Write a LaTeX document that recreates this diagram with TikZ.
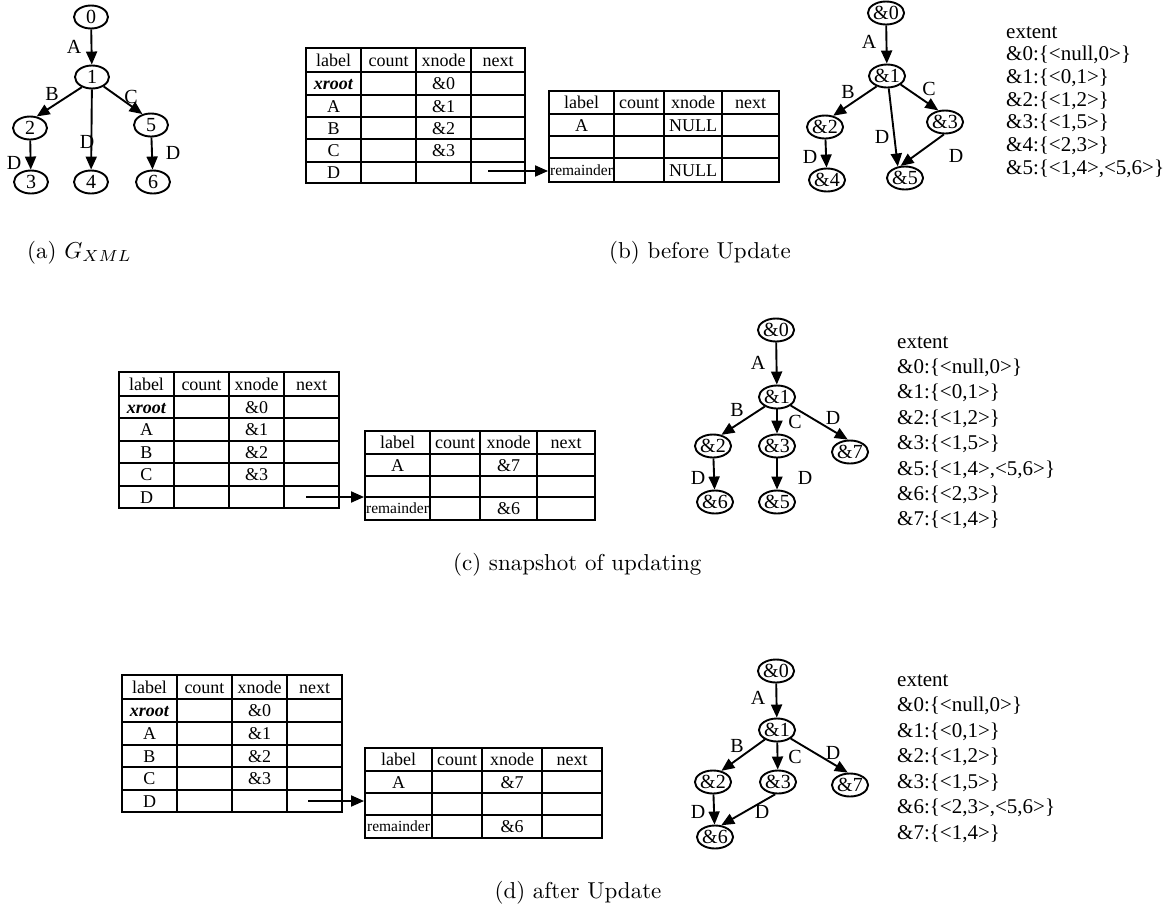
\documentclass[tikz,border=0pt]{standalone}
\usepackage{fontspec}
\usepackage{graphicx}
\usetikzlibrary{arrows.meta,shapes.geometric}
\newfontfamily\timesf{Liberation Serif}
\newcommand\grfont{\timesf\fontsize{20}{22}\selectfont}
\newcommand\tbfont{\timesf\fontsize{18}{20}\selectfont}
\newcommand\smfont{\timesf\fontsize{15.5}{17}\selectfont}
\newcommand\exfont{\timesf\fontsize{21}{23}\selectfont}
\begin{document}
\begin{tikzpicture}[x=1pt,y=-1pt,
  gnode/.style={ellipse, draw, line width=1.9pt, minimum width=34pt, minimum height=23pt, inner sep=0pt, font=\grfont},
  garr/.style={line width=1.9pt, -{Triangle[length=13pt,width=11pt]}},
  elab/.style={font=\grfont, inner sep=0pt},
  tframe/.style={draw, rectangle, line width=1.9pt, inner sep=0pt},
  tline/.style={line width=1.9pt},
  ttext/.style={font=\tbfont, inner sep=0pt, anchor=base},
  tsmall/.style={font=\smfont, inner sep=0pt, anchor=base},
  ext/.style={font=\exfont, inner sep=0pt, anchor=base west},
  capt/.style={inner sep=0pt, anchor=base}]
\useasboundingbox (0,0) rectangle (1173,916);

% ================= (a) =================
\node[gnode] (a0) at (91,17) {0};
\node[gnode] (a1) at (92,77) {1};
\node[gnode] (a2) at (30,128) {2};
\node[gnode] (a5) at (151,125) {5};
\node[gnode] (a3) at (31,182) {3};
\node[gnode] (a4) at (91,182) {4};
\node[gnode] (a6) at (153,182) {6};
\draw[garr] (a0) -- (a1);
\draw[garr] (a1.225) -- (a2.60);
\draw[garr] (a1) -- (a4);
\draw[garr] (a1.321) -- (a5.128);
\draw[garr] (a2) -- (a3);
\draw[garr] (a5) -- (a6);
\node[elab] (aA) at (74,47) {A};
\node[elab] (aB) at (52,94) {B};
\node[elab] (aC) at (131,97) {C};
\node[elab] (aD1) at (87,142) {D};
\node[elab] (aD2) at (14,163) {D};
\node[elab] (aD3) at (173,153) {D};
\node[capt, anchor=base west] (capa) at (27,258) {\scalebox{2.3}{(a) $G_{XML}$}};

% ================= (b) tables =================
\node[tframe, minimum width=219pt, minimum height=135pt] (bT1) at (415.5,115.5) {};
\foreach \x in {361,416,471} \draw[tline] (\x,48) -- (\x,183);
\foreach \y in {72,95,117,139,162} \draw[tline] (306,\y) -- (525,\y);
\node[ttext] (b1h1) at (333.5,66) {label};
\node[ttext] (b1h2) at (388.5,66) {count};
\node[ttext] (b1h3) at (443.5,66) {xnode};
\node[ttext] (b1h4) at (498,66) {next};
\node[ttext] (b1r1) at (333.5,89.5) {\textbf{\textit{xroot}}};
\node[ttext] (b1x1) at (443.5,89.5) {\&0};
\node[ttext] (b1r2) at (333.5,112) {A};
\node[ttext] (b1x2) at (443.5,112) {\&1};
\node[ttext] (b1r3) at (333.5,134) {B};
\node[ttext] (b1x3) at (443.5,134) {\&2};
\node[ttext] (b1r4) at (333.5,156.5) {C};
\node[ttext] (b1x4) at (443.5,156.5) {\&3};
\node[ttext] (b1r5) at (333.5,178.5) {D};

\node[tframe, minimum width=230pt, minimum height=91pt] (bT2) at (664,136.5) {};
\foreach \x in {614,664,722} \draw[tline] (\x,91) -- (\x,182);
\foreach \y in {114,136,158} \draw[tline] (549,\y) -- (779,\y);
\node[ttext] (b2h1) at (581.5,108.5) {label};
\node[ttext] (b2h2) at (639,108.5) {count};
\node[ttext] (b2h3) at (693,108.5) {xnode};
\node[ttext] (b2h4) at (750.5,108.5) {next};
\node[ttext] (b2r1) at (581.5,131) {A};
\node[ttext] (b2x1) at (693,131) {NULL};
\node[tsmall] (b2r3) at (581.5,175) {remainder};
\node[ttext] (b2x3) at (693,176) {NULL};
\coordinate (bS) at (488,171);
\draw[garr] (bS) -- (bT2.west |- bS);

% ================= (b) graph =================
\node[gnode] (b0) at (886,13) {\&0};
\node[gnode] (b1) at (887,76) {\&1};
\node[gnode] (b2) at (825,127) {\&2};
\node[gnode] (b3) at (945,122) {\&3};
\node[gnode] (b4) at (827,180) {\&4};
\node[gnode] (b5) at (905,178) {\&5};
\draw[garr] (b0) -- (b1);
\draw[garr] (b1.225) -- (b2.54);
\draw[garr] (b1.278) -- (b5.122);
\draw[garr] (b1.328) -- (b3.120);
\draw[garr] (b2) -- (b4);
\draw[garr] (b3.265) -- (b5.110);
\node[elab] (bA) at (869,42) {A};
\node[elab] (bB) at (848,92) {B};
\node[elab] (bC) at (929,89) {C};
\node[elab] (bD1) at (882,137) {D};
\node[elab] (bD2) at (810,157) {D};
\node[elab] (bD3) at (956,156) {D};
\node[ext] (be0) at (1006,38) {extent};
\node[ext] (be1) at (1006,60.7) {\&0:\{<null,0>\}};
\node[ext] (be2) at (1006,83.4) {\&1:\{<0,1>\}};
\node[ext] (be3) at (1006,106.1) {\&2:\{<1,2>\}};
\node[ext] (be4) at (1006,128.8) {\&3:\{<1,5>\}};
\node[ext] (be5) at (1006,151.5) {\&4:\{<2,3>\}};
\node[ext] (be6) at (1006,174.2) {\&5:\{<1,4>,<5,6>\}};
\node[capt] (capb) at (700,258) {\scalebox{2.3}{(b) before Update}};

% ================= (c) tables =================
\node[tframe, minimum width=220pt, minimum height=136pt] (cT1) at (229,440) {};
\foreach \x in {174,229,284} \draw[tline] (\x,372) -- (\x,508);
\foreach \y in {396,418,441,463,486} \draw[tline] (119,\y) -- (339,\y);
\node[ttext] (c1h1) at (146.5,390) {label};
\node[ttext] (c1h2) at (201.5,390) {count};
\node[ttext] (c1h3) at (256.5,390) {xnode};
\node[ttext] (c1h4) at (311.5,390) {next};
\node[ttext] (c1r1) at (146.5,413) {\textbf{\textit{xroot}}};
\node[ttext] (c1x1) at (256.5,413) {\&0};
\node[ttext] (c1r2) at (146.5,435.5) {A};
\node[ttext] (c1x2) at (256.5,435.5) {\&1};
\node[ttext] (c1r3) at (146.5,458) {B};
\node[ttext] (c1x3) at (256.5,458) {\&2};
\node[ttext] (c1r4) at (146.5,480.5) {C};
\node[ttext] (c1x4) at (256.5,480.5) {\&3};
\node[ttext] (c1r5) at (146.5,503) {D};

\node[tframe, minimum width=230pt, minimum height=89pt] (cT2) at (480,475.5) {};
\foreach \x in {430,480,537} \draw[tline] (\x,431) -- (\x,520);
\foreach \y in {454,476,497} \draw[tline] (365,\y) -- (595,\y);
\node[ttext] (c2h1) at (397.5,448.5) {label};
\node[ttext] (c2h2) at (455,448.5) {count};
\node[ttext] (c2h3) at (508.5,448.5) {xnode};
\node[ttext] (c2h4) at (566,448.5) {next};
\node[ttext] (c2r1) at (397.5,471) {A};
\node[ttext] (c2x1) at (508.5,471) {\&7};
\node[tsmall] (c2r3) at (397.5,513.5) {remainder};
\node[ttext] (c2x3) at (508.5,514.5) {\&6};
\coordinate (cS) at (306,497);
\draw[garr] (cS) -- (cT2.west |- cS);

% ================= (c) graph =================
\node[gnode] (c0) at (776,330) {\&0};
\node[gnode] (c1) at (777,397) {\&1};
\node[gnode] (c2) at (713,446) {\&2};
\node[gnode] (c3) at (777,446) {\&3};
\node[gnode] (c7) at (850,452) {\&7};
\node[gnode] (c6) at (715,502) {\&6};
\node[gnode] (c5) at (777,502) {\&5};
\draw[garr] (c0) -- (c1);
\draw[garr] (c1.218) -- (c2.53);
\draw[garr] (c1) -- (c3);
\draw[garr] (c1.328) -- (c7.100);
\draw[garr] (c2) -- (c6);
\draw[garr] (c3) -- (c5);
\node[elab] (cA) at (758,363) {A};
\node[elab] (cB) at (737,410) {B};
\node[elab] (cC) at (795,422) {C};
\node[elab] (cD1) at (833,418) {D};
\node[elab] (cD2) at (698,478) {D};
\node[elab] (cD3) at (805,478) {D};
\node[ext] (ce0) at (897,348) {extent};
\node[ext] (ce1) at (897,373.4) {\&0:\{<null,0>\}};
\node[ext] (ce2) at (897,398.8) {\&1:\{<0,1>\}};
\node[ext] (ce3) at (897,424.2) {\&2:\{<1,2>\}};
\node[ext] (ce4) at (897,449.6) {\&3:\{<1,5>\}};
\node[ext] (ce5) at (897,475) {\&5:\{<1,4>,<5,6>\}};
\node[ext] (ce6) at (897,500.4) {\&6:\{<2,3>\}};
\node[ext] (ce7) at (897,525.8) {\&7:\{<1,4>\}};
\node[capt, anchor=base west] (capc) at (453,570) {\scalebox{2.3}{(c) snapshot of updating}};

% ================= (d) tables =================
\node[tframe, minimum width=220pt, minimum height=137pt] (dT1) at (232,743.5) {};
\foreach \x in {177,232,287} \draw[tline] (\x,675) -- (\x,812);
\foreach \y in {699,722,745,767,790} \draw[tline] (122,\y) -- (342,\y);
\node[ttext] (d1h1) at (149.5,693) {label};
\node[ttext] (d1h2) at (204.5,693) {count};
\node[ttext] (d1h3) at (259.5,693) {xnode};
\node[ttext] (d1h4) at (314.5,693) {next};
\node[ttext] (d1r1) at (149.5,716.5) {\textbf{\textit{xroot}}};
\node[ttext] (d1x1) at (259.5,716.5) {\&0};
\node[ttext] (d1r2) at (149.5,739.5) {A};
\node[ttext] (d1x2) at (259.5,739.5) {\&1};
\node[ttext] (d1r3) at (149.5,762) {B};
\node[ttext] (d1x3) at (259.5,762) {\&2};
\node[ttext] (d1r4) at (149.5,784.5) {C};
\node[ttext] (d1x4) at (259.5,784.5) {\&3};
\node[ttext] (d1r5) at (149.5,807) {D};

\node[tframe, minimum width=237pt, minimum height=90pt] (dT2) at (483.5,793) {};
\foreach \x in {432,482,542} \draw[tline] (\x,748) -- (\x,838);
\foreach \y in {771,793,815} \draw[tline] (365,\y) -- (602,\y);
\node[ttext] (d2h1) at (398.5,765.5) {label};
\node[ttext] (d2h2) at (457,765.5) {count};
\node[ttext] (d2h3) at (512,765.5) {xnode};
\node[ttext] (d2h4) at (572,765.5) {next};
\node[ttext] (d2r1) at (398.5,788) {A};
\node[ttext] (d2x1) at (512,788) {\&7};
\node[tsmall] (d2r3) at (398.5,831.5) {remainder};
\node[ttext] (d2x3) at (512,832.5) {\&6};
\coordinate (dS) at (308,801);
\draw[garr] (dS) -- (dT2.west |- dS);

% ================= (d) graph =================
\node[gnode] (d0) at (776,671) {\&0};
\node[gnode] (d1) at (777,730) {\&1};
\node[gnode] (d2) at (713,782) {\&2};
\node[gnode] (d3) at (778,782) {\&3};
\node[gnode] (d7) at (850,785) {\&7};
\node[gnode] (d6) at (715,837) {\&6};
\draw[garr] (d0) -- (d1);
\draw[garr] (d1.218) -- (d2.53);
\draw[garr] (d1) -- (d3);
\draw[garr] (d1.328) -- (d7.100);
\draw[garr] (d2) -- (d6);
\draw[garr] (d3.257) -- (d6.62);
\node[elab] (dA) at (758,698) {A};
\node[elab] (dB) at (737,746) {B};
\node[elab] (dC) at (795,757) {C};
\node[elab] (dD1) at (833,753) {D};
\node[elab] (dD2) at (698,812) {D};
\node[elab] (dD3) at (762,812) {D};
\node[ext] (de0) at (897,686) {extent};
\node[ext] (de1) at (897,711.5) {\&0:\{<null,0>\}};
\node[ext] (de2) at (897,737) {\&1:\{<0,1>\}};
\node[ext] (de3) at (897,762.5) {\&2:\{<1,2>\}};
\node[ext] (de4) at (897,788) {\&3:\{<1,5>\}};
\node[ext] (de5) at (897,813.5) {\&6:\{<2,3>,<5,6>\}};
\node[ext] (de6) at (897,839) {\&7:\{<1,4>\}};
\node[capt] (capd) at (578,898) {\scalebox{2.3}{(d) after Update}};
\end{tikzpicture}
\end{document}
